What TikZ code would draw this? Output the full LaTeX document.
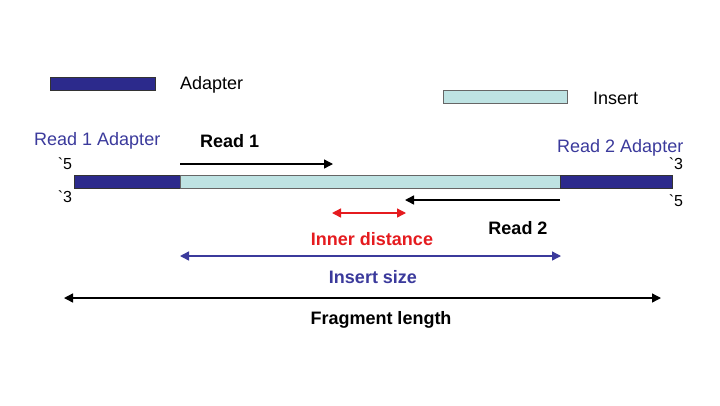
\documentclass[tikz,border=0pt]{standalone}
\usepackage{fontspec}
\setmainfont{Liberation Sans}
\usetikzlibrary{arrows.meta}
\definecolor{adblue}{HTML}{2C2A8C}
\definecolor{txblue}{HTML}{3B3A9C}
\definecolor{inscyan}{HTML}{BEE3E3}
\definecolor{redarr}{HTML}{E51B1F}
\tikzset{
  bar/.style={draw=#1, line width=0.8pt, inner sep=0pt, minimum height=13pt, anchor=north west},
  adbar/.style={bar=black!80, fill=adblue},
  insbar/.style={bar=black!60, fill=inscyan},
  lbl/.style={font=\fontsize{18}{20}\selectfont, inner sep=0pt},
  blbl/.style={lbl, font=\fontsize{18}{20}\selectfont\bfseries},
  endlbl/.style={font=\fontsize{16}{18}\selectfont, inner sep=0pt},
  arr/.style={line width=1.4pt, -{Triangle[length=9pt,width=9pt]}},
  darr/.style={line width=1.4pt, {Triangle[length=9pt,width=9pt]}-{Triangle[length=9pt,width=9pt]}},
}
\begin{document}
\begin{tikzpicture}[x=1pt,y=-1pt]
\useasboundingbox[fill=white] (0,0) rectangle (720,405);
% legend
\node[adbar, minimum width=105pt] (legad) at (50,77) {};
\node[lbl, anchor=west] (legadt) at (180,85) {Adapter};
\node[insbar, minimum width=124pt] (legins) at (443,90) {};
\node[lbl, anchor=west] (leginst) at (593,98.5) {Insert};
% main fragment
\node[adbar, minimum width=106pt] (ad1) at (74,175) {};
\node[insbar, minimum width=380pt] (ins) at (180,175) {};
\node[adbar, minimum width=112pt] (ad2) at (560,175) {};
% labels
\node[lbl, text=txblue, anchor=west] (r1at) at (34,141) {Read 1 Adapter};
\node[blbl, anchor=west] (r1t) at (200,141) {Read 1};
\node[lbl, text=txblue, anchor=west] (r2at) at (557,148) {Read 2 Adapter};
\node[blbl] (r2t) at (518,228) {Read 2};
\node[endlbl] (e5a) at (65,164) {\textasciigrave 5};
\node[endlbl] (e3a) at (65,197) {\textasciigrave 3};
\node[endlbl] (e3b) at (676,164) {\textasciigrave 3};
\node[endlbl] (e5b) at (676,201) {\textasciigrave 5};
% read arrows
\coordinate (r1s) at (180,164);
\coordinate (r1e) at (333,164);
\draw[arr] (r1s) -- (r1e);
\coordinate (r2s) at (560,200);
\coordinate (r2e) at (405,200);
\draw[arr] (r2s) -- (r2e);
% inner distance
\coordinate (ids) at (332,213);
\coordinate (ide) at (406,213);
\draw[darr, redarr] (ids) -- (ide);
\node[blbl, text=redarr] (idt) at (372,239) {Inner distance};
% insert size
\coordinate (iss) at (180,256);
\coordinate (ise) at (561,256);
\draw[darr, txblue] (iss) -- (ise);
\node[blbl, text=txblue] (ist) at (373,277) {Insert size};
% fragment length
\coordinate (fls) at (64,298);
\coordinate (fle) at (661,298);
\draw[darr, black] (fls) -- (fle);
\node[blbl] (flt) at (381,320) {Fragment length};
\end{tikzpicture}
\end{document}
